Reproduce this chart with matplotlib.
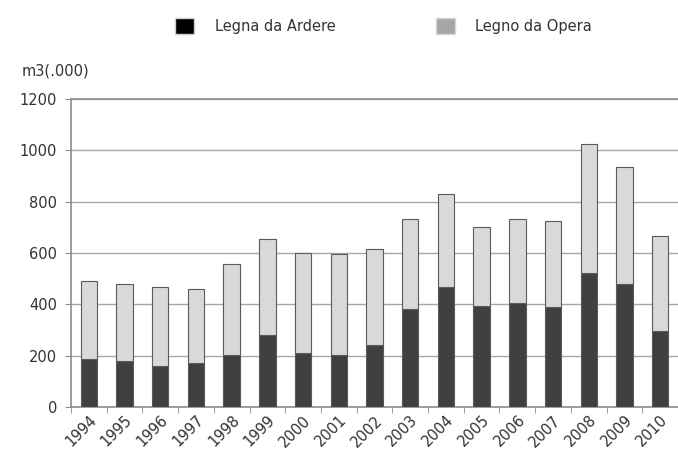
import numpy as np
import matplotlib
matplotlib.use('Agg')
import matplotlib.pyplot as plt
from matplotlib.patches import Patch

# Values (thousands of m3)
years = ['1994', '1995', '1996', '1997', '1998', '1999', '2000', '2001', '2002',
         '2003', '2004', '2005', '2006', '2007', '2008', '2009', '2010']
legna_ardere = [188, 178, 160, 173, 202, 282, 212, 204, 240,
                380, 467, 395, 407, 391, 523, 478, 298]
legno_opera = [304, 301, 307, 285, 356, 372, 386, 392, 375,
               352, 361, 305, 324, 333, 500, 456, 369]
y_ticks = [0, 200, 400, 600, 800, 1000, 1200]

text_col = '#333333'
line_col = '#8c8c8c'

fig = plt.figure(figsize=(6.78, 4.55), dpi=100)
ax = fig.add_axes([0.1047, 0.1055, 0.8953, 0.677])

x = np.arange(len(years))
ax.bar(x, legna_ardere, width=0.46, color='#404040', edgecolor='#5a5a5a', linewidth=0.8, zorder=3)
ax.bar(x, legno_opera, width=0.46, bottom=legna_ardere, color='#d9d9d9',
       edgecolor='#5a5a5a', linewidth=0.8, zorder=3)

ax.set_xlim(-0.5, len(years) - 0.5)
ax.set_ylim(0, 1200)
ax.set_yticks(y_ticks)
ax.set_yticklabels([str(v) for v in y_ticks], fontsize=10.5, color=text_col)
ax.yaxis.grid(True, color='#a6a6a6', linewidth=1.0, zorder=0)
ax.set_axisbelow(True)

# labels at bar centres, tick marks at category boundaries
ax.set_xticks(x)
ax.set_xticklabels(years, rotation=45, ha='right', rotation_mode='anchor',
                   fontsize=10.5, color=text_col)
ax.set_xticks(np.arange(len(years) + 1) - 0.5, minor=True)
ax.tick_params(axis='x', which='major', length=0, pad=4)
ax.tick_params(axis='x', which='minor', length=4, color=line_col, direction='out')
ax.tick_params(axis='y', length=4, color=line_col, pad=6)

for side in ['left', 'bottom', 'top']:
    ax.spines[side].set_color(line_col)
    ax.spines[side].set_linewidth(1.2)
ax.spines['right'].set_visible(False)

fig.text(0.032, 0.845, 'm3(.000)', fontsize=10.5, color=text_col, va='center')

handles = [Patch(facecolor='black', edgecolor='#cfcfcf'),
           Patch(facecolor='#a6a6a6', edgecolor='#d6d6d6')]
fig.legend(handles, ['Legna da Ardere', 'Legno da Opera'], ncol=2, loc='center',
           bbox_to_anchor=(0.566, 0.942), frameon=False, fontsize=10.5,
           handlelength=1.3, handleheight=1.3, handletextpad=1.4,
           columnspacing=6.9, labelcolor=text_col)

fig.savefig('out.png', dpi=100)
